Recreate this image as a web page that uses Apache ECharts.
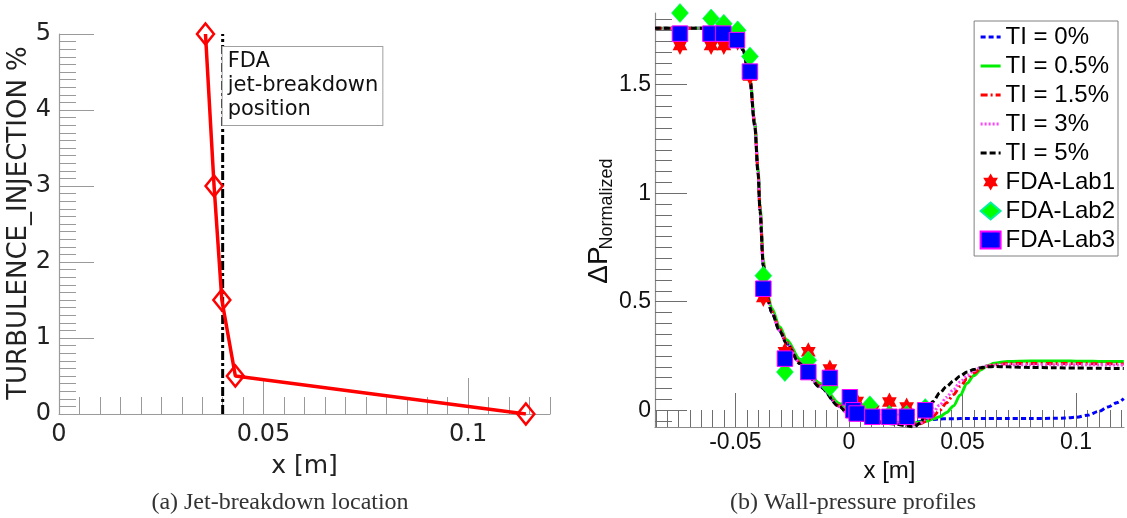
<!DOCTYPE html>
<html>
<head>
<meta charset="utf-8">
<script src="https://cdn.jsdelivr.net/npm/echarts@6/dist/echarts.min.js"></script>
<style>html,body{margin:0;padding:0;background:#fff}#c{width:1127px;height:518px}</style>
</head>
<body>
<div id="c"></div>
<script>
// ---------- (a) Jet-breakdown location ----------
const jetX = [0.0358, 0.0379, 0.0398, 0.0431, 0.1141];
const jetTI = [5, 3, 1.5, 0.5, 0];
const fdaBreakdownX = [0.04];
const fdaLabel = 'FDA\njet-breakdown\nposition';
const leftXTicks = [0, 0.05, 0.1];
const leftYTicks = [0, 1, 2, 3, 4, 5];

// ---------- (b) Wall-pressure profiles ----------
const profileX = [-0.0854, -0.07, -0.058, -0.052, -0.049, -0.0467, -0.0436, -0.0415, -0.0400, -0.0392,
  -0.0377, -0.036, -0.034, -0.0305, -0.0274, -0.0216, -0.0128, -0.004, 0.0004, 0.005,
  0.012, 0.02, 0.026, 0.0285, 0.0313, 0.034, 0.037, 0.040, 0.043, 0.046,
  0.049, 0.052, 0.055, 0.058, 0.061, 0.064, 0.07, 0.08, 0.09, 0.095,
  0.1, 0.105, 0.11, 0.114, 0.118, 0.121];
const ti0 = [1.76, 1.76, 1.76, 1.755, 1.72, 1.66, 1.525, 1.32, 1.10, 0.93,
  0.67, 0.525, 0.452, 0.368, 0.308, 0.218, 0.11, 0.018, -0.029, -0.044,
  -0.052, -0.056, -0.058, -0.057, -0.052, -0.046, -0.042, -0.04, -0.039, -0.039,
  -0.038, -0.038, -0.038, -0.038, -0.038, -0.038, -0.038, -0.038, -0.037, -0.036,
  -0.032, -0.023, -0.005, 0.015, 0.035, 0.054];
const ti05 = [1.76, 1.76, 1.76, 1.755, 1.725, 1.665, 1.53, 1.33, 1.11, 0.95,
  0.69, 0.54, 0.47, 0.385, 0.325, 0.235, 0.125, 0.03, -0.02, -0.04,
  -0.05, -0.055, -0.057, -0.057, -0.055, -0.05, -0.04, -0.03, -0.01, 0.02,
  0.07, 0.125, 0.16, 0.186, 0.205, 0.217, 0.225, 0.227, 0.227, 0.227,
  0.226, 0.226, 0.225, 0.225, 0.225, 0.225];
const ti15 = [1.76, 1.76, 1.76, 1.755, 1.72, 1.66, 1.525, 1.32, 1.10, 0.93,
  0.675, 0.53, 0.455, 0.372, 0.312, 0.222, 0.113, 0.02, -0.027, -0.042,
  -0.052, -0.058, -0.063, -0.065, -0.062, -0.05, -0.028, 0.0, 0.035, 0.072,
  0.11, 0.145, 0.172, 0.192, 0.203, 0.21, 0.215, 0.216, 0.216, 0.215,
  0.215, 0.215, 0.214, 0.214, 0.214, 0.213];
const ti3 = [1.76, 1.76, 1.76, 1.755, 1.72, 1.66, 1.52, 1.32, 1.10, 0.93,
  0.67, 0.525, 0.452, 0.368, 0.308, 0.218, 0.11, 0.018, -0.029, -0.044,
  -0.054, -0.06, -0.066, -0.068, -0.06, -0.04, -0.01, 0.025, 0.06, 0.095,
  0.13, 0.16, 0.182, 0.197, 0.205, 0.208, 0.21, 0.21, 0.21, 0.21,
  0.21, 0.21, 0.21, 0.209, 0.209, 0.209];
const ti5 = [1.76, 1.76, 1.76, 1.755, 1.72, 1.66, 1.52, 1.31, 1.09, 0.92,
  0.665, 0.52, 0.45, 0.365, 0.305, 0.215, 0.107, 0.015, -0.031, -0.045,
  -0.055, -0.063, -0.072, -0.077, -0.06, -0.01, 0.04, 0.08, 0.11, 0.135,
  0.158, 0.176, 0.188, 0.196, 0.2, 0.202, 0.2, 0.197, 0.196, 0.195,
  0.195, 0.194, 0.194, 0.193, 0.193, 0.192];

const lab1X = [-0.0744, -0.0607, -0.0551, -0.0490, -0.0436, -0.0377, -0.0282, -0.0179, -0.0084, 0.0034, 0.0103, 0.0178, 0.0254, 0.0336];
const lab1Y = [1.68, 1.68, 1.68, 1.70, 1.54, 0.52, 0.27, 0.27, 0.19, 0.04, 0.0, 0.038, 0.015, -0.005];
const lab2X = [-0.0744, -0.0607, -0.0551, -0.0490, -0.0436, -0.0377, -0.0282, -0.0179, -0.0084, 0.0004, 0.0092, 0.0178, 0.0254, 0.0336];
const lab2Y = [1.83, 1.805, 1.78, 1.75, 1.63, 0.62, 0.176, 0.23, 0.107, 0.035, 0.023, -0.02, -0.02, 0.01];
const lab3X = [-0.0744, -0.0610, -0.0553, -0.0493, -0.0436, -0.0377, -0.0282, -0.0179, -0.0084, 0.0004, 0.0019, 0.0034, 0.0103, 0.0178, 0.0254, 0.0336];
const lab3Y = [1.735, 1.735, 1.735, 1.705, 1.56, 0.56, 0.238, 0.176, 0.149, 0.06, 0.0, -0.015, -0.03, -0.03, -0.03, 0.0];

const rightXTicks = [-0.05, 0, 0.05, 0.1];
const rightYTicks = [0, 0.5, 1, 1.5];

const tiNames = ['TI = 0%', 'TI = 0.5%', 'TI = 1.5%', 'TI = 3%', 'TI = 5%'];
const labNames = ['FDA-Lab1', 'FDA-Lab2', 'FDA-Lab3'];

const captionA = '(a) Jet-breakdown location';
const captionB = '(b) Wall-pressure profiles';

// ---------- helpers ----------
const r4 = v => Math.round(v * 10000) / 10000;
function steps(a, b, s) {
  const o = [];
  for (let i = Math.ceil(a / s - 1e-9); i * s <= b + 1e-9; i++) o.push(r4(i * s));
  return o;
}
const pairs = (xs, ys) => xs.map((x, i) => [x, ys[i]]);

const LF = "'DejaVu Sans'";
const RF = "'Liberation Sans', Arial";

const LX = [0, 0.12], LY = [0, 5];
const RX = [-0.0854, 0.1211], RY = [-0.077, 1.83];

const leftGray = '#9a9a9a';
const rightGray = '#6e6e6e';

function valAxis(o) {
  return Object.assign({
    type: 'value', splitLine: { show: false },
    axisLine: { onZero: false }, axisLabel: { show: false }
  }, o);
}

const xAxes = [
  valAxis({ gridIndex: 0, position: 'bottom', min: LX[0], max: LX[1],
    axisLine: { onZero: false, lineStyle: { color: leftGray, width: 1.2 } },
    axisTick: { inside: true, length: 36, customValues: leftXTicks.slice(1), lineStyle: { color: leftGray } },
    axisLabel: { show: true, customValues: leftXTicks, margin: 9, fontFamily: LF, fontSize: 24, color: '#222' },
    name: 'x [m]', nameLocation: 'middle', nameGap: 40,
    nameTextStyle: { fontFamily: LF, fontSize: 25, color: '#222' } }),
  valAxis({ gridIndex: 0, position: 'bottom', min: LX[0], max: LX[1],
    axisLine: { show: false, onZero: false },
    axisTick: { inside: true, length: 17, customValues: steps(0.005, LX[1], 0.005), lineStyle: { color: leftGray } } }),
  valAxis({ gridIndex: 1, position: 'bottom', min: RX[0], max: RX[1],
    axisLine: { onZero: false, lineStyle: { color: '#8a8a8a', width: 1.2 } },
    axisTick: { inside: true, length: 34, customValues: rightXTicks, lineStyle: { color: rightGray } },
    axisLabel: { show: true, customValues: rightXTicks, margin: 4, fontFamily: RF, fontSize: 23, color: '#111' },
    name: 'x [m]', nameLocation: 'middle', nameGap: 28,
    nameTextStyle: { fontFamily: RF, fontSize: 24, color: '#111' } }),
  valAxis({ gridIndex: 1, position: 'bottom', min: RX[0], max: RX[1],
    axisLine: { show: false, onZero: false },
    axisTick: { inside: true, length: 17, customValues: steps(RX[0], RX[1], 0.005), lineStyle: { color: rightGray } } })
];

const yAxes = [
  valAxis({ gridIndex: 0, position: 'left', min: LY[0], max: LY[1],
    axisLine: { onZero: false, lineStyle: { color: leftGray, width: 1.2 } },
    axisTick: { inside: true, length: 35, customValues: leftYTicks.slice(1), lineStyle: { color: leftGray } },
    axisLabel: { show: true, customValues: leftYTicks, margin: 8, fontFamily: LF, fontSize: 24, color: '#222' } }),
  valAxis({ gridIndex: 0, position: 'left', min: LY[0], max: LY[1],
    axisLine: { show: false, onZero: false },
    axisTick: { inside: true, length: 17, customValues: steps(0.1, LY[1], 0.1), lineStyle: { color: leftGray } } }),
  valAxis({ gridIndex: 1, position: 'left', min: RY[0], max: RY[1],
    axisLine: { onZero: false, lineStyle: { color: '#8a8a8a', width: 1.2 } },
    axisTick: { inside: true, length: 32, customValues: rightYTicks, lineStyle: { color: rightGray } },
    axisLabel: { show: true, customValues: rightYTicks, margin: 4, fontFamily: RF, fontSize: 23, color: '#111' } }),
  valAxis({ gridIndex: 1, position: 'left', min: RY[0], max: RY[1],
    axisLine: { show: false, onZero: false },
    axisTick: { inside: true, length: 17, customValues: steps(RY[0], RY[1], 0.05), lineStyle: { color: rightGray } } })
];

const starPath = 'path://M0,-100 L28.87,-50 L86.6,-50 L57.7,0 L86.6,50 L28.87,50 L0,100 L-28.87,50 L-86.6,50 L-57.7,0 L-86.6,-50 L-28.87,-50 Z';

function tiLine(name, ys, color, type, width) {
  return {
    name, type: 'line', xAxisIndex: 2, yAxisIndex: 2, data: pairs(profileX, ys),
    symbol: 'none', smooth: 0.3, smoothMonotone: 'x',
    lineStyle: { color, width: width || 3, type }, itemStyle: { color }
  };
}

const series = [
  { name: 'breakdown', type: 'line', xAxisIndex: 0, yAxisIndex: 0,
    data: [[fdaBreakdownX[0], LY[0]], [fdaBreakdownX[0], LY[1]]],
    symbol: 'none', lineStyle: { color: '#000', width: 3, type: [9, 3, 3, 3] }, silent: true },
  { name: 'jet', type: 'line', xAxisIndex: 0, yAxisIndex: 0, data: pairs(jetX, jetTI),
    symbol: 'diamond', symbolSize: [17, 21], showAllSymbol: true,
    lineStyle: { color: '#ff0000', width: 3.5 },
    itemStyle: { color: 'rgba(255,255,255,0)', borderColor: '#ff0000', borderWidth: 2.5 }, z: 3 },
  tiLine(tiNames[0], ti0, '#0000ff', [5, 3]),
  tiLine(tiNames[1], ti05, '#00ee00', 'solid'),
  tiLine(tiNames[2], ti15, '#ff0000', [7, 3, 2, 3]),
  tiLine(tiNames[3], ti3, '#ff44ff', [2, 2]),
  tiLine(tiNames[4], ti5, '#000000', [6, 3]),
  { name: labNames[0], type: 'scatter', xAxisIndex: 2, yAxisIndex: 2, data: pairs(lab1X, lab1Y),
    symbol: starPath, symbolSize: [17, 19], symbolKeepAspect: true,
    itemStyle: { color: '#ff0000', opacity: 1 }, z: 4 },
  { name: labNames[1], type: 'scatter', xAxisIndex: 2, yAxisIndex: 2, data: pairs(lab2X, lab2Y),
    symbol: 'diamond', symbolSize: [17, 19],
    itemStyle: { color: '#00ff00', borderColor: '#00f0a0', borderWidth: 0.6, opacity: 1 }, z: 5 },
  { name: labNames[2], type: 'scatter', xAxisIndex: 2, yAxisIndex: 2, data: pairs(lab3X, lab3Y),
    symbol: 'rect', symbolSize: 15.5,
    itemStyle: { color: '#0000ff', borderColor: '#ff00ff', borderWidth: 1, opacity: 1 }, z: 6 }
];

const legendData = tiNames.map(n => ({ name: n, itemStyle: { opacity: 0 }, lineStyle: { width: 3 } }))
  .concat(labNames.map(n => ({ name: n })));

const chart = echarts.init(document.getElementById('c'));
chart.setOption({
  animation: false,
  backgroundColor: '#ffffff',
  grid: [
    { left: 59, right: 577, top: 34, bottom: 104, outerBoundsMode: 'none', containLabel: false },
    { left: 655, right: 3, top: 13, bottom: 91, outerBoundsMode: 'none', containLabel: false }
  ],
  xAxis: xAxes,
  yAxis: yAxes,
  legend: {
    data: legendData,
    orient: 'vertical', right: 9, top: 21, padding: [4, 3, 4, 5],
    itemWidth: 20, itemHeight: 17, itemGap: 5,
    borderColor: '#808080', borderWidth: 1, backgroundColor: '#ffffff',
    textStyle: { fontFamily: RF, fontSize: 24, color: '#000' },
    selectedMode: false
  },
  series
});

const anchor = chart.convertToPixel({ gridIndex: 0 }, [fdaBreakdownX[0], 4.83]);
chart.setOption({
  graphic: [
    { type: 'text', x: anchor[0], y: anchor[1], z: 10,
      style: { text: fdaLabel, font: "21px 'DejaVu Sans'", fill: '#111', lineHeight: 24,
        align: 'left', verticalAlign: 'top', backgroundColor: '#fff',
        borderColor: '#a0a0a0', borderWidth: 1, padding: [3, 4, 3, 5] } },
    { type: 'text', x: 19, y: 223, rotation: Math.PI / 2,
      style: { text: 'TURBULENCE_INJECTION %', font: "26px 'DejaVu Sans'", fill: '#222',
        align: 'center', verticalAlign: 'middle' } },
    { type: 'text', x: 599, y: 265, rotation: Math.PI / 2,
      style: { text: 'ΔP', font: "28px 'Liberation Sans'", fill: '#111',
        align: 'center', verticalAlign: 'middle' } },
    { type: 'text', x: 607, y: 204, rotation: Math.PI / 2,
      style: { text: 'Normalized', font: "18px 'Liberation Sans'", fill: '#111',
        align: 'center', verticalAlign: 'middle' } },
    { type: 'text', x: 280, y: 503,
      style: { text: captionA, font: "24px 'Liberation Serif'", fill: '#333',
        align: 'center', verticalAlign: 'middle' } },
    { type: 'text', x: 853, y: 503,
      style: { text: captionB, font: "24px 'Liberation Serif'", fill: '#333',
        align: 'center', verticalAlign: 'middle' } }
  ]
});
</script>
</body>
</html>
